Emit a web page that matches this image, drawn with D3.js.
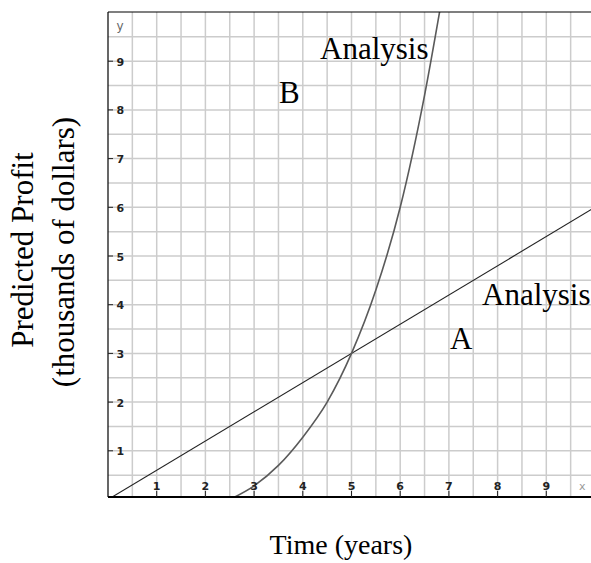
<!DOCTYPE html>
<html>
<head>
<meta charset="utf-8">
<script src="https://cdn.jsdelivr.net/npm/d3@7/dist/d3.min.js"></script>
<style>
  html, body { margin: 0; padding: 0; background: #fff; }
  svg { display: block; }
</style>
</head>
<body>
<svg id="chart" width="591" height="563"></svg>
<script>
// ---- Data ----
const xTicks = [1, 2, 3, 4, 5, 6, 7, 8, 9];
const yTicks = [1, 2, 3, 4, 5, 6, 7, 8, 9];
const gridSteps = [0.5, 1, 1.5, 2, 2.5, 3, 3.5, 4, 4.5, 5, 5.5, 6, 6.5, 7, 7.5, 8, 8.5, 9, 9.5];

// Analysis A: straight line
const lineAX = [0, 10];
const lineAY = [0, 6];

// Analysis B: steep growth curve (estimated points)
const curveBX = [2.5, 3, 3.5, 4, 4.5, 5, 5.5, 6, 6.5, 6.85];
const curveBY = [0, 0.28, 0.7, 1.28, 2.0, 3.0, 4.3, 6.0, 8.3, 10.25];

const labelA = ["Analysis", "A"];
const labelB = ["Analysis", "B"];
const xTitle = "Time (years)";
const yTitle = ["Predicted Profit", "(thousands of dollars)"];

(function () {
const svg = d3.select("#chart");
const pL = 108, pR = 591, pT = 12, pB = 497;

const x = d3.scaleLinear().domain([0, 10]).range([108, 595]);
const y = d3.scaleLinear().domain([0, 10]).range([499.5, 12.5]);

svg.append("defs").append("clipPath").attr("id", "plotclip")
  .append("rect").attr("x", pL).attr("y", pT).attr("width", pR - pL).attr("height", pB - pT);

const plot = svg.append("g").attr("clip-path", "url(#plotclip)");

// Grid
plot.selectAll("line.vg").data(gridSteps).join("line").attr("class", "vg")
  .attr("x1", d => x(d)).attr("x2", d => x(d))
  .attr("y1", pT).attr("y2", pB)
  .attr("stroke", "#cccccc").attr("stroke-width", 1.5);
plot.selectAll("line.hg").data(gridSteps).join("line").attr("class", "hg")
  .attr("y1", d => y(d)).attr("y2", d => y(d))
  .attr("x1", pL).attr("x2", pR)
  .attr("stroke", "#cccccc").attr("stroke-width", 1.5);

// Line A
const ptsA = lineAX.map((d, i) => [d, lineAY[i]]);
plot.append("path")
  .attr("d", d3.line().x(d => x(d[0])).y(d => y(d[1]))(ptsA))
  .attr("fill", "none").attr("stroke", "#222").attr("stroke-width", 1.1);

// Curve B
const ptsB = curveBX.map((d, i) => [d, curveBY[i]]);
plot.append("path")
  .attr("d", d3.line().x(d => x(d[0])).y(d => y(d[1])).curve(d3.curveMonotoneX)(ptsB))
  .attr("fill", "none").attr("stroke", "#5a5a5a").attr("stroke-width", 1.6);

// Frame
svg.append("line").attr("x1", pL).attr("x2", pR).attr("y1", pT).attr("y2", pT)
  .attr("stroke", "#000").attr("stroke-width", 1.2);
svg.append("line").attr("x1", pL).attr("x2", pL).attr("y1", pT).attr("y2", pB)
  .attr("stroke", "#000").attr("stroke-width", 1.2);
svg.append("line").attr("x1", pL).attr("x2", pR).attr("y1", pB).attr("y2", pB)
  .attr("stroke", "#000").attr("stroke-width", 2);

// Ticks
const tickFont = "'DejaVu Sans', 'Liberation Sans', sans-serif";
svg.selectAll("line.xt").data(xTicks).join("line").attr("class", "xt")
  .attr("x1", d => x(d)).attr("x2", d => x(d))
  .attr("y1", pB).attr("y2", pB - 6)
  .attr("stroke", "#222").attr("stroke-width", 1);
svg.selectAll("text.xt").data(xTicks).join("text").attr("class", "xt")
  .attr("x", d => x(d)).attr("y", 490)
  .attr("text-anchor", "middle")
  .attr("font-family", tickFont).attr("font-weight", "bold").attr("font-size", 11)
  .attr("fill", "#222").text(d => d);

svg.selectAll("line.yt").data(yTicks).join("line").attr("class", "yt")
  .attr("y1", d => y(d)).attr("y2", d => y(d))
  .attr("x1", pL).attr("x2", pL + 5)
  .attr("stroke", "#222").attr("stroke-width", 1);
svg.selectAll("text.yt").data(yTicks).join("text").attr("class", "yt")
  .attr("x", 116.5).attr("y", d => y(d) + 4.5)
  .attr("text-anchor", "start")
  .attr("font-family", tickFont).attr("font-weight", "bold").attr("font-size", 11)
  .attr("fill", "#222").text(d => d);

svg.append("text").attr("x", 116.5).attr("y", 30)
  .attr("font-family", tickFont).attr("font-size", 12).attr("fill", "#666").text("y");
svg.append("text").attr("x", 579).attr("y", 490)
  .attr("font-family", tickFont).attr("font-size", 11).attr("fill", "#999").text("x");

// Annotations
const serif = "'Liberation Serif', 'Times New Roman', serif";
svg.append("text").attr("x", 320).attr("y", 59)
  .attr("font-family", serif).attr("font-size", 31).attr("fill", "#000").text(labelB[0]);
svg.append("text").attr("x", 279).attr("y", 103)
  .attr("font-family", serif).attr("font-size", 31).attr("fill", "#000").text(labelB[1]);
svg.append("text").attr("x", 482).attr("y", 305)
  .attr("font-family", serif).attr("font-size", 31).attr("fill", "#000").text(labelA[0]);
svg.append("text").attr("x", 450).attr("y", 349)
  .attr("font-family", serif).attr("font-size", 31).attr("fill", "#000").text(labelA[1]);

// Axis titles
svg.append("text").attr("x", 341).attr("y", 554)
  .attr("text-anchor", "middle")
  .attr("font-family", serif).attr("font-size", 28).attr("fill", "#000").text(xTitle);

svg.append("text").attr("transform", "translate(33,250) rotate(-90)")
  .attr("text-anchor", "middle")
  .attr("font-family", serif).attr("font-size", 31).attr("fill", "#000").text(yTitle[0]);
svg.append("text").attr("transform", "translate(74,252) rotate(-90)")
  .attr("text-anchor", "middle")
  .attr("font-family", serif).attr("font-size", 31).attr("fill", "#000").text(yTitle[1]);
})();
</script>
</body>
</html>
